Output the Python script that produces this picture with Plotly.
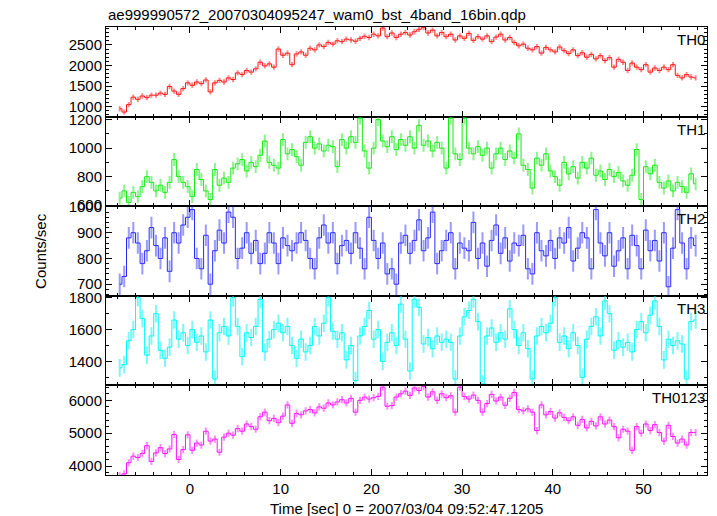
import numpy as np
import plotly.graph_objects as go
from plotly.subplots import make_subplots

# ---- data (bin centres every 0.5 s, from -7.75 s) ----
T_START = -7.75
T_BIN = 0.5

TH0 = [950, 870, 1050, 1230, 1180, 1260, 1220, 1280,
       1280, 1330, 1300, 1490, 1380, 1300, 1440, 1580,
       1520, 1600, 1560, 1650, 1360, 1580, 1640, 1600,
       1700, 1660, 1820, 1780, 1880, 1840, 1920, 2080,
       1990, 2040, 1960, 2400, 2250, 2300, 2020, 2280,
       2330, 2250, 2420, 2380, 2500, 2460, 2560, 2520,
       2600, 2580, 2640, 2620, 2590, 2660, 2710, 2680,
       2760, 2720, 2910, 2700, 2790, 2680, 2760, 2800,
       2740, 2820, 2880, 2920, 2790, 2860, 2720, 2800,
       2700, 2760, 2620, 2720, 2660, 2780, 2610, 2700,
       2640, 2720, 2580, 2690, 2760, 2620, 2680, 2560,
       2480, 2520, 2420, 2380, 2460, 2300, 2440, 2380,
       2330, 2450, 2360, 2290, 2380, 2240, 2310, 2200,
       2270, 2160, 2240, 2120, 2190, 1960, 2150, 2080,
       1880, 2060, 1960, 1900, 2020, 1840, 1940, 1880,
       1960, 1900, 2020, 1760, 1700, 1780, 1720, 1700]

TH1 = [650, 700, 620, 690, 660, 730, 800, 760,
       700, 740, 690, 760, 920, 800, 760, 730,
       660, 850, 780, 700, 640, 850, 740, 790,
       760, 860, 890, 920, 840, 900, 870, 950,
       1050, 900, 880, 860, 1060, 960, 990, 940,
       880, 1040, 1080, 1000, 1030, 980, 1020, 1010,
       870, 1060, 1000, 1080, 1040, 1210, 980, 860,
       1000, 1200, 1050, 1010, 1080, 990, 1060, 1020,
       1080, 1000, 1160, 1020, 1050, 980, 1040, 1000,
       860, 1210, 960, 920, 1210, 1000, 960, 1010,
       950, 1000, 860, 960, 1000, 920, 980, 930,
       1100, 880, 850, 720, 930, 880, 960, 840,
       800, 740, 900, 820, 870, 790, 900, 860,
       930, 810, 840, 780, 850, 800, 830, 770,
       740, 810, 990, 640, 870, 820, 880, 760,
       720, 770, 700, 760, 730, 690, 820, 750]

TH2 = [700, 730, 880, 900, 860, 780, 830, 920,
       850, 800, 880, 750, 900, 860, 930, 960,
       990, 800, 760, 890, 700, 830, 910, 860,
       980, 960, 800, 840, 900, 820, 870, 780,
       820, 900, 860, 780, 880, 850, 830, 860,
       900, 870, 800, 760, 880, 930, 860, 900,
       780, 850, 870, 820, 900, 840, 760, 960,
       870, 800, 860, 740, 760, 700, 860, 890,
       820, 870, 950, 830, 880, 980, 780, 830,
       870, 900, 760, 860, 840, 830, 940, 800,
       860, 770, 870, 930, 820, 880, 790, 860,
       850, 890, 760, 740, 900, 830, 810, 870,
       800, 880, 860, 920, 790, 840, 900, 880,
       760, 990, 860, 810, 900, 770, 830, 880,
       760, 890, 850, 760, 910, 830, 870, 790,
       900, 690, 840, 990, 860, 760, 880, 850]

TH3 = [1360, 1380, 1530, 1600, 1800, 1670, 1440, 1560,
       1700, 1470, 1420, 1490, 1660, 1540, 1580, 1500,
       1600, 1520, 1560, 1460, 1660, 1290, 1580, 1620,
       1560, 1800, 1620, 1430, 1580, 1550, 1620, 1790,
       1460, 1540, 1600, 1640, 1580, 1620, 1500, 1420,
       1540, 1460, 1500, 1620, 1560, 1640, 1800, 1590,
       1540, 1580, 1410, 1500, 1280, 1560, 1620, 1720,
       1540, 1600, 1400, 1520, 1580, 1500, 1760, 1540,
       1340, 1790, 1740, 1510, 1550, 1480, 1560, 1520,
       1540, 1520, 1290, 1560, 1680, 1720, 1790, 1650,
       1260, 1560, 1610, 1520, 1580, 1540, 1730, 1600,
       1500, 1580, 1480, 1290, 1560, 1620, 1580, 1640,
       1800, 1520, 1560, 1480, 1580, 1500, 1300, 1540,
       1620, 1680, 1560, 1780, 1700, 1470, 1530, 1490,
       1520, 1460, 1600, 1650, 1580, 1690, 1780, 1620,
       1410, 1540, 1500, 1530, 1510, 1290, 1650, 1660]

TH0123 = [3700, 3760, 4100, 4300, 4260, 4380, 4620, 4140,
          4400, 4560, 4380, 4520, 4960, 4200, 4500, 4950,
          4480, 4700, 4640, 5060, 4760, 4820, 4420, 4880,
          5000, 4940, 5140, 5060, 5280, 5200, 5120, 5500,
          5640, 5380, 5450, 5320, 5520, 5860, 5300, 5600,
          5560, 5680, 5720, 5620, 5800, 5760, 5920, 5860,
          5950, 6020, 5920, 6060, 5640, 6000, 6100, 6040,
          6080, 6120, 6400, 5820, 5840, 6100, 6200, 6280,
          6150, 6380, 6300, 6420, 6100, 6260, 6000, 6200,
          6080, 6140, 5640, 6400, 6120, 6040, 6160, 6000,
          5640, 5900, 6180, 5980, 6100, 5850, 6060, 6240,
          5720, 5680, 5740, 5640, 5080, 5860, 5560, 5660,
          5460, 5620, 5480, 5380, 5500, 5240, 5420, 5160,
          5360, 5220, 5500, 5280, 5400, 5200, 4860, 5120,
          5060, 4480, 5200, 5000, 5280, 5080, 5260, 5020,
          4760, 5240, 4900, 4700, 4820, 4640, 5020, 5020]

ERRORS = [65, 45, 42, 55, 110]          # typical 1-sigma error per band
NAMES = ["TH0", "TH1", "TH2", "TH3", "TH0123"]
Y_TICKS = [[1000, 1500, 2000, 2500],
           [600, 800, 1000, 1200],
           [700, 800, 900, 1000],
           [1400, 1600, 1800],
           [4000, 5000, 6000]]

TITLE = "ae999990572_20070304095247_wam0_bst_4band_16bin.qdp"
X_TITLE = "Time [sec] 0 = 2007/03/04 09:52:47.1205"
Y_TITLE = "Counts/sec"

# ---- styles ----
SERIES = [TH0, TH1, TH2, TH3, TH0123]
COLORS = ["rgb(255,20,20)", "rgb(20,235,20)", "rgb(40,40,255)", "rgb(0,250,250)", "rgb(250,20,250)"]
ERRCOL = ["rgba(255,0,0,0.45)", "rgba(0,230,0,0.45)", "rgba(30,30,255,0.45)",
          "rgba(0,240,240,0.5)", "rgba(255,0,255,0.45)"]
Y_RANGES = [[760, 2935], [593, 1221], [655, 1003], [1250, 1812], [3727, 6455]]
MINOR = [100, 100, 20, 100, 200]

FONT = "Liberation Sans, Helvetica, Arial, sans-serif"

n = len(TH0)
t = T_START + T_BIN * np.arange(n)

fig = make_subplots(rows=5, cols=1, shared_xaxes=True, vertical_spacing=0)

for k in range(5):
    fig.add_trace(go.Scatter(
        x=t, y=SERIES[k], mode="lines",
        line=dict(color=COLORS[k], width=1, shape="hvh"),
        error_y=dict(type="constant", value=ERRORS[k], color=ERRCOL[k],
                     thickness=2, width=0),
        hoverinfo="skip"), row=k + 1, col=1)

fig.update_xaxes(range=[-9.26, 57.0], showline=True, linecolor="black", linewidth=1,
                 mirror="allticks", ticks="inside", ticklen=6, tickcolor="black",
                 tick0=0, dtick=10, showgrid=False, zeroline=False,
                 minor=dict(ticks="inside", ticklen=3, dtick=2, tickcolor="black"),
                 tickfont=dict(family=FONT, size=15, color="black"))

for k in range(5):
    fig.update_yaxes(range=Y_RANGES[k], tickvals=Y_TICKS[k], showline=True,
                     linecolor="black", linewidth=1, mirror="allticks",
                     ticks="inside", ticklen=6, tickcolor="black",
                     showgrid=False, zeroline=False,
                     minor=dict(ticks="inside", ticklen=3, dtick=MINOR[k],
                                tickcolor="black"),
                     tickfont=dict(family=FONT, size=15, color="black"),
                     row=k + 1, col=1)

annotations = []
tops = [1.0, 0.8, 0.6, 0.4, 0.2]
for k in range(5):
    annotations.append(dict(text=NAMES[k], xref="paper", yref="paper", x=1.0,
                            y=tops[k], xanchor="right", yanchor="top",
                            xshift=0, yshift=-2, showarrow=False,
                            font=dict(family=FONT, size=15, color="black")))
annotations.append(dict(text=TITLE, xref="paper", yref="paper", x=0, y=1,
                        xanchor="left", yanchor="bottom", yshift=2, showarrow=False,
                        font=dict(family=FONT, size=15, color="black")))
annotations.append(dict(text=X_TITLE, xref="paper", yref="paper", x=0.5, y=0,
                        xanchor="center", yanchor="middle", yshift=-33,
                        showarrow=False,
                        font=dict(family=FONT, size=15, color="black")))
annotations.append(dict(text=Y_TITLE, xref="paper", yref="paper", x=-0.11, y=0.5,
                        xanchor="center", yanchor="middle", textangle=-90,
                        showarrow=False,
                        font=dict(family=FONT, size=15, color="black")))

fig.update_layout(width=717, height=516, margin=dict(l=106, r=10, t=27, b=41),
                  plot_bgcolor="white", paper_bgcolor="white", showlegend=False,
                  font=dict(family=FONT, size=15, color="black"),
                  annotations=annotations)

fig.write_html("out.html", config={"displayModeBar": False},
               post_script="document.body.style.margin='0px';"
                           "document.body.style.padding='0px';"
                           "document.body.style.overflow='hidden';")
